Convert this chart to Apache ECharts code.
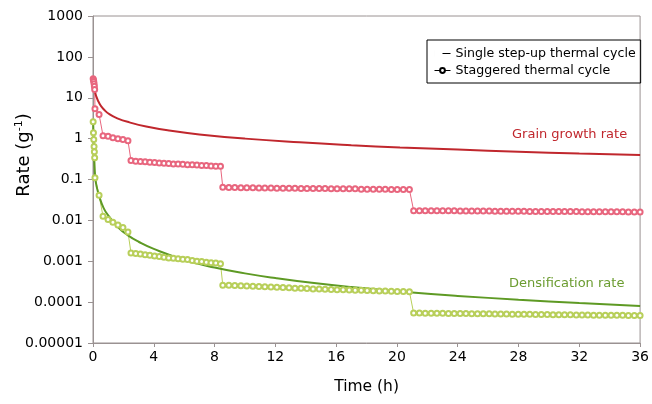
<!DOCTYPE html>
<html>
<head>
<meta charset="utf-8">
<script src="https://cdn.jsdelivr.net/npm/echarts@6/dist/echarts.min.js"></script>
<style>
  html, body { margin: 0; padding: 0; background: #fff; }
  #chart { width: 652px; height: 404px; }
</style>
</head>
<body>
<div id="chart"></div>
<script>
// sampling times of the staggered cycle (h), shared by both staggered series
const stagTime = [
  0.01, 0.03, 0.05, 0.07, 0.09, 0.11, 0.13, 0.40, 0.66, 0.99, 1.31, 1.64, 1.97, 2.30,
  2.50, 2.81, 3.12, 3.43, 3.74, 4.05, 4.36, 4.67, 4.98, 5.29, 5.60, 5.91, 6.22, 6.53, 6.84, 7.15, 7.46, 7.77, 8.08, 8.39,
  8.54, 8.94, 9.33, 9.73, 10.12, 10.52, 10.92, 11.31, 11.71, 12.10, 12.50, 12.90, 13.29, 13.69, 14.08, 14.48,
  14.88, 15.27, 15.67, 16.06, 16.46, 16.86, 17.25, 17.65, 18.04, 18.44, 18.84, 19.23, 19.63, 20.02, 20.42, 20.82,
  21.10, 21.48, 21.86, 22.25, 22.63, 23.01, 23.39, 23.77, 24.16, 24.54, 24.92, 25.30, 25.68, 26.07, 26.45, 26.83,
  27.21, 27.59, 27.98, 28.36, 28.74, 29.12, 29.50, 29.89, 30.27, 30.65, 31.03, 31.41, 31.80, 32.18, 32.56, 32.94,
  33.32, 33.71, 34.09, 34.47, 34.85, 35.23, 35.62, 36.00
]
const grainStag = [
  29, 27, 25, 22, 19, 16, 5.4, 3.9, 1.18, 1.14, 1.05, 0.99, 0.95, 0.89,
  0.29, 0.28, 0.275, 0.27, 0.265, 0.26, 0.255, 0.25, 0.245, 0.24, 0.24, 0.235, 0.23, 0.23, 0.225, 0.22, 0.22, 0.215, 0.21, 0.21,
  0.065, 0.064, 0.064, 0.063, 0.063, 0.063, 0.062, 0.062, 0.062, 0.061, 0.061, 0.061, 0.061, 0.060, 0.060, 0.060,
  0.060, 0.060, 0.059, 0.059, 0.059, 0.059, 0.059, 0.058, 0.058, 0.058, 0.058, 0.058, 0.057, 0.057, 0.057, 0.057,
  0.0173, 0.0173, 0.0172, 0.0172, 0.0172, 0.0171, 0.0171, 0.0171, 0.0170, 0.0170, 0.0170, 0.0169, 0.0169, 0.0169, 0.0168, 0.0168,
  0.0168, 0.0167, 0.0167, 0.0167, 0.0166, 0.0166, 0.0166, 0.0165, 0.0165, 0.0165, 0.0164, 0.0164, 0.0164, 0.0163, 0.0163, 0.0163,
  0.0163, 0.0162, 0.0162, 0.0162, 0.0162, 0.0161, 0.0161, 0.0161
]
const densStag = [
  2.6, 1.4, 0.95, 0.64, 0.48, 0.34, 0.11, 0.041, 0.0126, 0.0105, 0.009, 0.0077, 0.0067, 0.0052,
  0.0016, 0.00155, 0.0015, 0.00145, 0.0014, 0.00135, 0.0013, 0.00125, 0.0012, 0.00118, 0.00115, 0.00112, 0.0011, 0.00105, 0.001, 0.00098, 0.00095, 0.00092, 0.0009, 0.00087,
  0.00026, 0.000257, 0.000254, 0.00025, 0.000247, 0.000244, 0.00024, 0.000237, 0.000234, 0.00023, 0.000227, 0.000224, 0.00022, 0.000217, 0.000214, 0.00021,
  0.000208, 0.000206, 0.000204, 0.000202, 0.0002, 0.000198, 0.000196, 0.000194, 0.000192, 0.00019, 0.000188, 0.000186, 0.000184, 0.000183, 0.000182, 0.00018,
  0.000054, 0.000054, 0.0000538, 0.0000536, 0.0000534, 0.0000532, 0.000053, 0.0000528, 0.0000526, 0.0000524, 0.0000522, 0.000052, 0.0000518, 0.0000516, 0.0000514, 0.0000512,
  0.000051, 0.0000508, 0.0000506, 0.0000504, 0.0000502, 0.00005, 0.0000498, 0.0000496, 0.0000494, 0.0000492, 0.000049, 0.0000488, 0.0000486, 0.0000484, 0.0000482, 0.000048,
  0.0000479, 0.0000478, 0.0000477, 0.0000476, 0.0000475, 0.0000474, 0.0000473, 0.0000472
]

// single step-up cycle curves
const grainTime = [0.1, 0.2, 0.46, 0.75, 1.1, 1.6, 2.4, 3.5, 5, 7, 10, 13.6, 17, 20.2, 24, 28, 32, 36]
const grainSingle = [17, 11.2, 6.8, 5.0, 3.9, 3.14, 2.5, 1.98, 1.58, 1.27, 1.0, 0.81, 0.69, 0.61, 0.54, 0.478, 0.432, 0.395]
const densTime = [0.01, 0.04, 0.08, 0.15, 0.25, 0.4, 0.7, 1.05, 1.7, 2.3, 3, 4, 6, 8, 10, 12, 14.4, 17, 20.8, 24, 28, 32, 36]
const densSingle = [2.6, 0.9, 0.3, 0.11, 0.065, 0.04, 0.02, 0.0125, 0.0065, 0.0043, 0.003, 0.002, 0.00108, 0.0007, 0.000505, 0.000387, 0.000296, 0.000233, 0.000174, 0.000142, 0.000115, 0.0000953, 0.0000808]

const yTickLabels = ['0.00001', '0.0001', '0.001', '0.01', '0.1', '1', '10', '100', '1000']

const font = 'DejaVu Sans'

function pairs(xs, ys) {
  return xs.map((x, i) => [x, ys[i]])
}

const chart = echarts.init(document.getElementById('chart'))
chart.setOption({
  animation: false,
  textStyle: { fontFamily: font },
  grid: {
    left: 93,
    right: 9,
    top: 16,
    bottom: 61,
    show: true,
    borderColor: '#9a9292',
    borderWidth: 1
  },
  legend: {
    orient: 'vertical',
    left: 427,
    top: 40,
    data: [
      { name: 'Single step-up thermal cycle', icon: 'path://M0,0h0.01v6h-0.01z M8,2.5h8v1h-8z' },
      'Staggered thermal cycle'
    ],
    borderColor: '#000',
    borderWidth: 1,
    borderRadius: 0,
    padding: [7, 5, 6, 7],
    itemGap: 4,
    itemWidth: 16,
    itemHeight: 6,
    lineStyle: { width: 1 },
    itemStyle: { borderWidth: 1 },
    textStyle: { fontFamily: font, fontSize: 12.6, color: '#000' }
  },
  xAxis: {
    type: 'value',
    min: 0,
    max: 36,
    interval: 4,
    name: 'Time (h)',
    nameLocation: 'middle',
    nameGap: 36,
    nameTextStyle: { fontFamily: font, fontSize: 15.5, color: '#000' },
    axisLine: { lineStyle: { color: '#9a9292', width: 1 } },
    axisTick: { length: 4, lineStyle: { color: '#9a9292' } },
    axisLabel: { fontFamily: font, fontSize: 14, color: '#000', margin: 7 },
    splitLine: { show: false }
  },
  yAxis: {
    type: 'log',
    logBase: 10,
    min: 0.00001,
    max: 1000,
    axisLine: { show: true, lineStyle: { color: '#9a9292', width: 1 } },
    axisTick: { show: true, length: 5, lineStyle: { color: '#9a9292' } },
    axisLabel: {
      fontFamily: font,
      fontSize: 14,
      color: '#000',
      margin: 10,
      formatter: v => yTickLabels[Math.round(Math.log10(v)) + 5]
    },
    splitLine: { show: false },
    minorTick: { show: false }
  },
  graphic: [
    {
      type: 'text',
      x: 24,
      y: 155,
      rotation: Math.PI / 2,
      style: {
        text: 'Rate (g{sup|-1})',
        fontFamily: font,
        fontSize: 18,
        fill: '#000',
        align: 'center',
        verticalAlign: 'middle',
        lineHeight: 20,
        rich: {
          sup: { fontFamily: font, fontSize: 11, verticalAlign: 'top', lineHeight: 20, fill: '#000' }
        }
      }
    },
    {
      type: 'text',
      left: 512,
      top: 128,
      style: { text: 'Grain growth rate', fontFamily: font, fontSize: 13, fill: '#c0272d' }
    },
    {
      type: 'text',
      left: 509,
      top: 277,
      style: { text: 'Densification rate', fontFamily: font, fontSize: 13, fill: '#6b9c30' }
    }
  ],
  series: [
    {
      name: 'Grain staggered',
      type: 'line',
      data: pairs(stagTime, grainStag),
      symbol: 'emptyCircle',
      symbolSize: 5,
      lineStyle: { color: '#e8667e', width: 1 },
      itemStyle: { color: '#e8667e', borderWidth: 1 }
    },
    {
      name: 'Densification staggered',
      type: 'line',
      data: pairs(stagTime, densStag),
      symbol: 'emptyCircle',
      symbolSize: 5,
      lineStyle: { color: '#b8cf5a', width: 1 },
      itemStyle: { color: '#b8cf5a', borderWidth: 1 }
    },
    {
      name: 'Grain single',
      type: 'line',
      data: pairs(grainTime, grainSingle),
      symbol: 'none',
      smooth: 0.5,
      lineStyle: { color: '#c0272d', width: 2 }
    },
    {
      name: 'Densification single',
      type: 'line',
      data: pairs(densTime, densSingle),
      symbol: 'none',
      smooth: 0.5,
      lineStyle: { color: '#5e9a24', width: 2 }
    },
    {
      name: 'Single step-up thermal cycle',
      type: 'line',
      data: [],
      symbol: 'none',
      itemStyle: { color: '#000' },
      lineStyle: { color: '#000', width: 1 }
    },
    {
      name: 'Staggered thermal cycle',
      type: 'line',
      data: [],
      symbol: 'emptyCircle',
      symbolSize: 5,
      itemStyle: { color: '#000' },
      lineStyle: { color: '#000', width: 1 }
    }
  ]
})
</script>
</body>
</html>
